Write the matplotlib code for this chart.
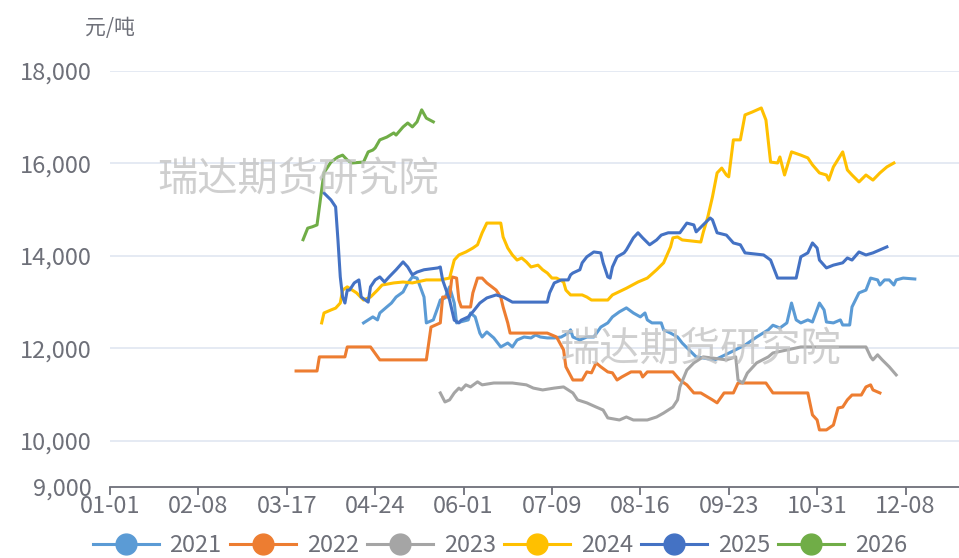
import matplotlib.pyplot as plt
from matplotlib.ticker import FuncFormatter

plt.rcParams['font.family'] = ['Noto Sans CJK SC', 'DejaVu Sans']

# 横轴用闰年日序（01-01 = 0）
tick_days = [0, 38, 76, 114, 152, 190, 228, 266, 304, 342]
tick_labels = ["01-01", "02-08", "03-17", "04-24", "06-01",
               "07-09", "08-16", "09-23", "10-31", "12-08"]

d2021 = [109, 111, 113, 115, 116, 119, 121, 123, 126, 128,
         130, 132, 135, 136, 139, 141, 142, 144, 146, 148,
         149, 154, 155, 157, 159, 160, 162, 165, 168, 171,
         173, 175, 178, 181, 183, 185, 188, 191, 194, 197,
         198, 199, 202, 205, 208, 211, 214, 216, 219, 222,
         225, 228, 230, 231, 233, 237, 238, 241, 244, 246,
         249, 252, 254, 260, 267, 273, 278, 283, 285, 288,
         291, 293, 295, 297, 300, 302, 305, 307, 308, 311,
         314, 315, 318, 319, 322, 325, 327, 330, 331, 333,
         335, 337, 338, 341, 346]
v2021 = [12550, 12615, 12680, 12615, 12765, 12895, 12980, 13110, 13220, 13415,
         13545, 13520, 13110, 12550, 12615, 12895, 13045, 13090, 13330, 12980,
         12550, 12615, 12765, 12680, 12330, 12245, 12355, 12225, 12030, 12115,
         12030, 12180, 12245, 12225, 12290, 12245, 12225, 12225, 12245, 12330,
         12400, 12245, 12180, 12245, 12245, 12460, 12550, 12680, 12790, 12875,
         12765, 12680, 12765, 12615, 12550, 12550, 12400, 12330, 12245, 12115,
         11965, 11815, 11800, 11750, 11920, 12070, 12245, 12400, 12500, 12440,
         12550, 12980, 12615, 12550, 12615, 12570, 12980, 12830, 12570, 12550,
         12615, 12505, 12505, 12895, 13200, 13260, 13520, 13480, 13370, 13480,
         13480, 13370, 13480, 13520, 13500]

d2022 = [80, 89, 90, 101, 102, 112, 116, 136, 138, 142,
         143, 146, 147, 149, 150, 151, 155, 156, 158, 160,
         162, 166, 168, 169, 171, 172, 188, 192, 195, 196,
         199, 203, 205, 207, 209, 211, 214, 216, 218, 220,
         224, 228, 229, 231, 242, 245, 248, 251, 254, 259,
         261, 264, 268, 270, 282, 285, 300, 302, 304, 305,
         308, 311, 313, 315, 317, 319, 323, 325, 327, 328,
         331]
v2022 = [11510, 11510, 11815, 11815, 12030, 12030, 11750, 11750, 12460, 12550,
         13110, 13110, 13545, 13520, 13045, 12895, 12895, 13200, 13520, 13520,
         13415, 13260, 13110, 12895, 12550, 12330, 12330, 12245, 11965, 11600,
         11315, 11315, 11490, 11470, 11685, 11600, 11490, 11470, 11315, 11380,
         11490, 11490, 11380, 11490, 11490, 11315, 11210, 11035, 11035, 10885,
         10820, 11035, 11035, 11250, 11250, 11035, 11035, 10560, 10450, 10235,
         10235, 10340, 10710, 10730, 10885, 10990, 10990, 11165, 11210, 11100,
         11035]

d2023 = [142, 144, 146, 148, 150, 151, 153, 155, 158, 160,
         165, 173, 179, 182, 186, 191, 195, 199, 201, 205,
         209, 212, 214, 219, 222, 225, 231, 235, 238, 242,
         244, 245, 248, 251, 255, 259, 265, 269, 270, 272,
         274, 278, 283, 285, 291, 297, 325, 327, 328, 330,
         332, 335, 338]
v2023 = [11035, 10840, 10885, 11035, 11140, 11100, 11210, 11165, 11275, 11210,
         11250, 11250, 11210, 11140, 11100, 11140, 11165, 11035, 10885, 10820,
         10730, 10665, 10495, 10450, 10515, 10450, 10450, 10515, 10600, 10730,
         10885, 11165, 11530, 11685, 11815, 11790, 11750, 11815, 11315, 11250,
         11465, 11685, 11815, 11900, 11965, 12030, 12030, 11815, 11750, 11860,
         11750, 11600, 11425]

d2024 = [91, 92, 95, 97, 99, 100, 102, 106, 109, 112,
         115, 117, 122, 126, 130, 136, 142, 146, 148, 150,
         153, 156, 158, 160, 162, 168, 169, 171, 173, 175,
         177, 179, 181, 184, 186, 188, 190, 192, 195, 196,
         198, 203, 205, 207, 214, 216, 222, 227, 231, 235,
         238, 241, 242, 244, 246, 254, 255, 257, 259, 261,
         263, 265, 266, 268, 271, 273, 276, 280, 282, 284,
         287, 288, 290, 293, 297, 300, 302, 305, 308, 309,
         311, 315, 317, 319, 322, 325, 328, 331, 334, 337]
v2024 = [12550, 12765, 12830, 12870, 12980, 13260, 13330, 13200, 13045, 13110,
         13260, 13370, 13415, 13435, 13415, 13480, 13480, 13520, 13910, 14020,
         14085, 14170, 14240, 14500, 14710, 14710, 14410, 14170, 14020, 13910,
         13955, 13870, 13760, 13800, 13700, 13630, 13520, 13520, 13435, 13260,
         13155, 13155, 13110, 13045, 13045, 13155, 13300, 13435, 13520, 13700,
         13850, 14195, 14390, 14410, 14345, 14300, 14500, 14840, 15275, 15795,
         15900, 15750, 15710, 16510, 16510, 17050, 17110, 17200, 16940, 16030,
         16010, 16140, 15750, 16250, 16180, 16120, 15970, 15795, 15750, 15640,
         15925, 16250, 15860, 15750, 15600, 15750, 15640, 15795, 15925, 16010]

d2025 = [92, 95, 97, 98, 99, 100, 101, 102, 103, 105,
         107, 108, 111, 112, 114, 116, 118, 120, 123, 126,
         128, 130, 132, 135, 141, 142, 143, 146, 148, 150,
         151, 154, 156, 159, 162, 166, 169, 173, 176, 188,
         189, 191, 194, 197, 198, 199, 202, 203, 205, 208,
         211, 212, 214, 215, 216, 218, 221, 222, 225, 227,
         229, 232, 235, 237, 240, 245, 248, 251, 252, 255,
         258, 259, 261, 265, 268, 271, 273, 281, 284, 287,
         295, 297, 300, 302, 304, 305, 308, 311, 315, 317,
         319, 322, 325, 328, 331, 334]
v2025 = [15360, 15210, 15060, 14345, 13545, 13110, 12980, 13260, 13260, 13415,
         13480, 13110, 13000, 13330, 13480, 13545, 13435, 13545, 13700, 13870,
         13760, 13590, 13650, 13700, 13740, 13760, 13480, 13045, 12610, 12550,
         12610, 12680, 12790, 12980, 13090, 13155, 13110, 13000, 13000, 13000,
         13200, 13415, 13480, 13480, 13590, 13630, 13700, 13850, 13980, 14085,
         14065, 13850, 13545, 13520, 13760, 13980, 14065, 14130, 14390, 14500,
         14390, 14240, 14345, 14450, 14500, 14500, 14710, 14670, 14520, 14670,
         14820, 14780, 14500, 14450, 14280, 14240, 14065, 14020, 13910, 13520,
         13520, 13980, 14065, 14280, 14170, 13910, 13740, 13800, 13850, 13955,
         13910, 14085, 14020, 14065, 14130, 14195]

d2026 = [83, 85, 87, 89, 91, 92, 95, 98, 100, 102,
         104, 109, 111, 113, 114, 116, 119, 122, 123, 126,
         128, 130, 132, 134, 136, 139]
v2026 = [14350, 14600, 14630, 14670, 15430, 15800, 16030, 16140, 16180, 16075,
         16010, 16030, 16250, 16290, 16335, 16510, 16570, 16660, 16615, 16790,
         16875, 16790, 16900, 17160, 16980, 16900]

series = [
    ("2021", d2021, v2021, "#5B9BD5"),
    ("2022", d2022, v2022, "#ED7D31"),
    ("2023", d2023, v2023, "#A5A5A5"),
    ("2024", d2024, v2024, "#FFC000"),
    ("2025", d2025, v2025, "#4472C4"),
    ("2026", d2026, v2026, "#70AD47"),
]

fig = plt.figure(figsize=(9.59, 5.58), dpi=100)
ax = fig.add_axes([110 / 959, 71 / 558, 849 / 959, 416 / 558])

for name, d, v, c in series:
    ax.plot(d, v, color=c, lw=2.2, label=name, zorder=3)

ax.set_xlim(0, 365)
ax.set_ylim(9000, 18000)
ax.set_xticks(tick_days)
ax.set_xticklabels(tick_labels)
ax.set_yticks([9000, 10000, 12000, 14000, 16000, 18000])
ax.yaxis.set_major_formatter(FuncFormatter(lambda y, _: f"{int(y):,}"))

for g in [10000, 12000, 14000, 16000, 18000]:
    ax.axhline(g, color="#E0E6F1", lw=1.2, zorder=1)

for s in ["top", "right", "left"]:
    ax.spines[s].set_visible(False)
ax.spines["bottom"].set_color("#6E7079")
ax.spines["bottom"].set_linewidth(1.3)
ax.tick_params(axis="x", colors="#6E7079", length=6, width=1.3, labelsize=17, pad=0)
ax.tick_params(axis="y", colors="#6E7079", length=0, labelsize=17, pad=13)
for lbl in ax.get_xticklabels() + ax.get_yticklabels():
    lbl.set_color("#6E7079")

# 水印
fig.text(298 / 959, 1 - 180 / 558, "瑞达期货研究院", fontsize=29, color="#C4C4C4",
         alpha=0.8, ha="center", va="center", zorder=0)
fig.text(700 / 959, 1 - 350 / 558, "瑞达期货研究院", fontsize=29, color="#C4C4C4",
         alpha=0.8, ha="center", va="center", zorder=5)

fig.text(110 / 959, 1 - 28 / 558, "元/吨", fontsize=15, color="#6E7079",
         ha="center", va="center")

handles = [plt.Line2D([], [], color=c, lw=2.2, marker="o", markersize=15)
           for _, _, _, c in series]
fig.legend(handles, [s[0] for s in series], loc="center",
           bbox_to_anchor=(500 / 959, 1 - 546 / 558), ncol=6, frameon=False,
           fontsize=17, handlelength=2.8, columnspacing=0.35,
           labelcolor="#6E7079", handletextpad=0.45)

fig.savefig("out.png", dpi=100)
